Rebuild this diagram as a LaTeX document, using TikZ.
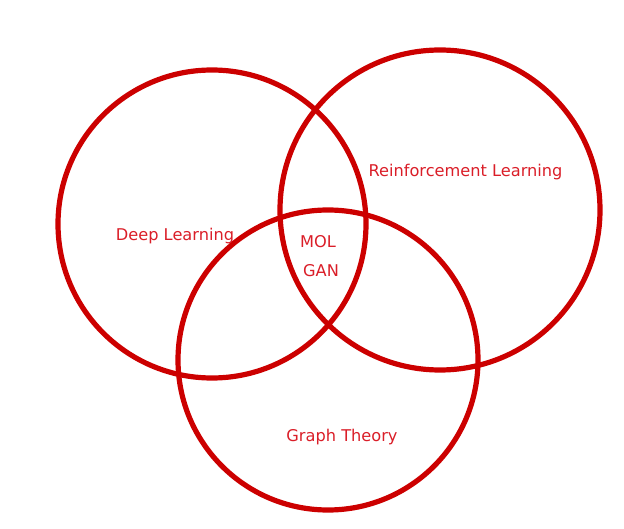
\documentclass[tikz,border=0pt]{standalone}
\usepackage{fontspec}
\setmainfont{DejaVu Sans}
\definecolor{ring}{RGB}{204,0,0}
\definecolor{lbl}{RGB}{218,30,40}
\begin{document}
\begin{tikzpicture}[x=1pt,y=-1pt,
  ring/.style={draw=ring,line width=5.2pt},
  lbl/.style={text=lbl,font=\fontsize{16.2}{19}\selectfont,inner sep=0pt}]
\useasboundingbox (0,0) rectangle (624,529);
\node[ring,circle,minimum size=308pt,inner sep=0pt] (dl) at (212,224) {};
\node[ring,circle,minimum size=320pt,inner sep=0pt] (rl) at (440,210) {};
\node[ring,circle,minimum size=300pt,inner sep=0pt] (gt) at (328,360) {};
\node[lbl] (tdl) at (175,236) {Deep Learning};
\node[lbl] (trl) at (465.5,172) {Reinforcement Learning};
\node[lbl] (tgt) at (342,437) {Graph Theory};
\node[lbl] (mol) at (318,242) {MOL};
\node[lbl] (gan) at (321,271) {GAN};
\end{tikzpicture}
\end{document}
